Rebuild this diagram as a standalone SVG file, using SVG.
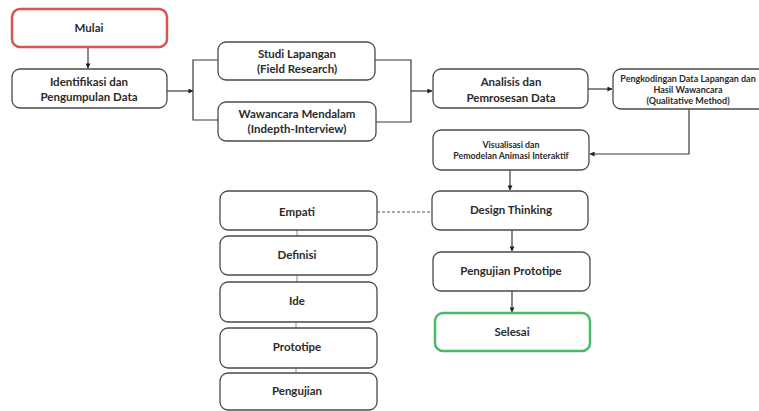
<svg xmlns="http://www.w3.org/2000/svg" width="759" height="411" viewBox="0 0 759 411">
<defs>
<style>
.box{fill:#fff;stroke:#4a4a4a;stroke-width:1.3}
.start{fill:#fff;stroke:#d9534f;stroke-width:2.5}
.end{fill:#fff;stroke:#4cb86a;stroke-width:2.5}
.t{font-family:Lato,"Open Sans","Liberation Sans",sans-serif;font-weight:700;fill:#2b2b2b;text-anchor:middle;font-size:11.5px}
.s{font-size:9px}
.xs{font-size:8.8px}
.ln{fill:none;stroke:#3a3a3a;stroke-width:1.2}
.tick{fill:none;stroke:#888;stroke-width:1}
.dash{fill:none;stroke:#555;stroke-width:1.2;stroke-dasharray:3,2}
</style>
<marker id="ah" viewBox="0 0 6 6" refX="5.5" refY="3" markerWidth="5" markerHeight="5" orient="auto" markerUnits="userSpaceOnUse">
<path d="M0,0 L6,3 L0,6 z" fill="#222"/>
</marker>
</defs>
<rect width="759" height="411" fill="#fff"/>
<g id="connectors">
<line class="ln" x1="88" y1="47" x2="88" y2="68" marker-end="url(#ah)"/>
<line class="ln" x1="167" y1="91" x2="193" y2="91" marker-end="url(#ah)"/>
<polyline class="ln" points="218,60 193,60 193,120 218,120"/>
<polyline class="ln" points="375,60 411,60 411,122 376,122"/>
<line class="ln" x1="411" y1="91" x2="432" y2="91" marker-end="url(#ah)"/>
<line class="ln" x1="588" y1="89" x2="612" y2="89" marker-end="url(#ah)"/>
<polyline class="ln" points="689,109 689,154 590,154" marker-end="url(#ah)"/>
<line class="ln" x1="510" y1="170" x2="510" y2="190" marker-end="url(#ah)"/>
<line class="ln" x1="512" y1="230" x2="512" y2="251" marker-end="url(#ah)"/>
<line class="ln" x1="512" y1="291" x2="512" y2="312" marker-end="url(#ah)"/>
<line class="dash" x1="377" y1="212" x2="432" y2="212"/>
<line class="tick" x1="297" y1="230" x2="297" y2="236"/>
<line class="tick" x1="297" y1="275" x2="297" y2="282"/>
<line class="tick" x1="296" y1="322" x2="296" y2="328"/>
<line class="tick" x1="296" y1="368" x2="296" y2="373"/>
</g>
<g id="mulai"><rect class="start" x="12" y="9" width="155" height="38" rx="8"/><text class="t" x="89" y="32">Mulai</text></g>
<g id="identifikasi"><rect class="box" x="12" y="69" width="155" height="39" rx="8"/><text class="t" x="89" y="86">Identifikasi dan</text><text class="t" x="89" y="101">Pengumpulan Data</text></g>
<g id="studi"><rect class="box" x="218" y="42" width="157" height="38" rx="8"/><text class="t" x="297" y="58">Studi Lapangan</text><text class="t" x="297" y="73">(Field Research)</text></g>
<g id="wawancara"><rect class="box" x="218" y="102" width="158" height="39" rx="8"/><text class="t" x="297" y="118">Wawancara Mendalam</text><text class="t" x="297" y="133">(Indepth-Interview)</text></g>
<g id="analisis"><rect class="box" x="433" y="69" width="155" height="39" rx="8"/><text class="t" x="511" y="86">Analisis dan</text><text class="t" x="511" y="102">Pemrosesan Data</text></g>
<g id="pengkodingan"><rect class="box" x="613" y="69" width="160" height="40" rx="8"/><text class="t s" x="688" y="82">Pengkodingan Data Lapangan dan</text><text class="t s" x="688" y="93">Hasil Wawancara</text><text class="t s" x="688" y="104">(Qualitative Method)</text></g>
<g id="visualisasi"><rect class="box" x="433" y="130" width="156" height="40" rx="8"/><text class="t xs" x="511" y="148">Visualisasi dan</text><text class="t xs" x="511" y="159">Pemodelan Animasi Interaktif</text></g>
<g id="design"><rect class="box" x="432" y="191" width="156" height="39" rx="8"/><text class="t" x="511" y="214">Design Thinking</text></g>
<g id="pengujian-prototipe"><rect class="box" x="433" y="252" width="157" height="39" rx="8"/><text class="t" x="511" y="275">Pengujian Prototipe</text></g>
<g id="selesai"><rect class="end" x="435" y="313" width="155" height="38" rx="8"/><text class="t" x="512" y="336">Selesai</text></g>
<g id="empati"><rect class="box" x="220" y="191" width="157" height="39" rx="8"/><text class="t" x="297" y="216">Empati</text></g>
<g id="definisi"><rect class="box" x="220" y="236" width="157" height="39" rx="8"/><text class="t" x="297" y="259">Definisi</text></g>
<g id="ide"><rect class="box" x="220" y="282" width="157" height="40" rx="8"/><text class="t" x="297" y="305">Ide</text></g>
<g id="prototipe"><rect class="box" x="220" y="328" width="157" height="40" rx="8"/><text class="t" x="297" y="351">Prototipe</text></g>
<g id="pengujian"><rect class="box" x="220" y="373" width="157" height="37" rx="8"/><text class="t" x="297" y="395">Pengujian</text></g>
</svg>
